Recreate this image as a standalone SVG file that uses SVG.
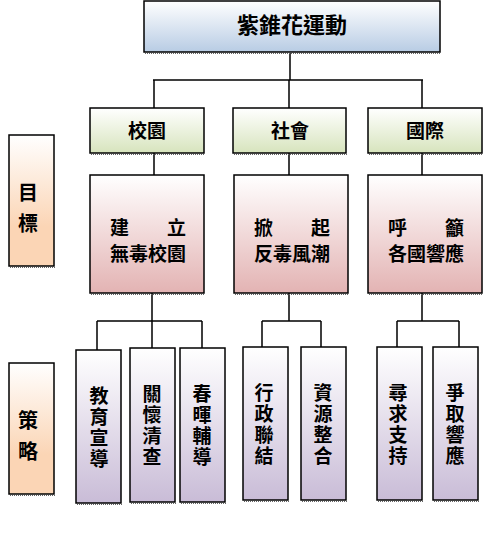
<svg xmlns="http://www.w3.org/2000/svg" width="500" height="549" viewBox="0 0 500 549">
<style>
.box{stroke:#000;stroke-width:1.5}
.shadow{stroke:#666;stroke-width:1;stroke-dasharray:1 1;fill:none}
.conn{stroke:#000;stroke-width:1.5;fill:none}
text{font-family:"Noto Sans CJK TC","Noto Sans CJK SC",sans-serif;font-weight:bold;fill:#000}
.h{font-size:19px;text-anchor:middle}
.v{font-size:19px;writing-mode:vertical-rl;text-anchor:middle;letter-spacing:2px}
.lv{font-size:20px;writing-mode:vertical-rl;text-anchor:middle;letter-spacing:11px}
</style>
<defs>
<linearGradient id="gBlue" x1="0" y1="0" x2="0" y2="1"><stop offset="0" stop-color="#ffffff"/><stop offset="1" stop-color="#b8cce4"/></linearGradient>
<linearGradient id="gGreen" x1="0" y1="0" x2="0" y2="1"><stop offset="0" stop-color="#ffffff"/><stop offset="1" stop-color="#d7e4bd"/></linearGradient>
<linearGradient id="gPink" x1="0" y1="0" x2="0" y2="1"><stop offset="0" stop-color="#ffffff"/><stop offset="1" stop-color="#e3b3b3"/></linearGradient>
<linearGradient id="gPeach" x1="0" y1="0" x2="0" y2="1"><stop offset="0" stop-color="#ffffff"/><stop offset="0.7" stop-color="#fbd5b5"/><stop offset="1" stop-color="#fbd5b5"/></linearGradient>
<linearGradient id="gPurple" x1="0" y1="0" x2="0" y2="1"><stop offset="0" stop-color="#ffffff"/><stop offset="1" stop-color="#c9bcd7"/></linearGradient>
</defs>
<rect width="500" height="549" fill="#fff"/>
<g id="connectors">
<path class="conn" d="M290 53V80M153 80H423M154 80V108M289 80V108M422 80V108"/>
<path class="conn" d="M154 153V175M289 153V175M422 153V175"/>
<path class="conn" d="M152 293V321M97 321H202M97 321V350M152 321V348M202 321V348"/>
<path class="conn" d="M289 293V321M262 321H321M262 321V347M321 321V347"/>
<path class="conn" d="M422 293V321M397 321H459M397 321V347M459 321V347"/>
</g>
<g id="title"><rect class="box" x="144" y="1" width="296" height="51" fill="url(#gBlue)"/><line class="shadow" x1="145" y1="53.5" x2="441" y2="53.5"/><text class="h" x="292" y="33" style="font-size:22px">紫錐花運動</text></g>
<g id="label-goal"><rect class="box" x="9" y="135" width="45" height="131" fill="url(#gPeach)"/><line class="shadow" x1="10" y1="267.5" x2="55" y2="267.5"/><text class="lv" x="28" y="213">目標</text></g>
<g id="label-strategy"><rect class="box" x="9" y="363" width="45" height="131" fill="url(#gPeach)"/><line class="shadow" x1="10" y1="495.5" x2="55" y2="495.5"/><text class="lv" x="28" y="441">策略</text></g>
<g id="campus"><rect class="box" x="90" y="108" width="114" height="45" fill="url(#gGreen)"/><line class="shadow" x1="91" y1="154.5" x2="205" y2="154.5"/><text class="h" x="147" y="138">校園</text></g>
<g id="society"><rect class="box" x="233" y="108" width="113" height="45" fill="url(#gGreen)"/><line class="shadow" x1="234" y1="154.5" x2="347" y2="154.5"/><text class="h" x="290" y="138">社會</text></g>
<g id="international"><rect class="box" x="368" y="108" width="114" height="45" fill="url(#gGreen)"/><line class="shadow" x1="369" y1="154.5" x2="483" y2="154.5"/><text class="h" x="425" y="138">國際</text></g>
<g id="goal-campus"><rect class="box" x="90" y="175" width="114" height="118" fill="url(#gPink)"/><line class="shadow" x1="91" y1="294.5" x2="205" y2="294.5"/><text class="h" x="148" y="235">建　　立</text><text class="h" x="148" y="261">無毒校園</text></g>
<g id="goal-society"><rect class="box" x="234" y="175" width="114" height="118" fill="url(#gPink)"/><line class="shadow" x1="235" y1="294.5" x2="349" y2="294.5"/><text class="h" x="292" y="235">掀　　起</text><text class="h" x="292" y="261">反毒風潮</text></g>
<g id="goal-international"><rect class="box" x="368" y="175" width="114" height="118" fill="url(#gPink)"/><line class="shadow" x1="369" y1="294.5" x2="483" y2="294.5"/><text class="h" x="426" y="235">呼　　籲</text><text class="h" x="426" y="261">各國響應</text></g>
<g id="s1"><rect class="box" x="76" y="350" width="45" height="153" fill="url(#gPurple)"/><line class="shadow" x1="77" y1="504.5" x2="122" y2="504.5"/><text class="v" x="99" y="428">教育宣導</text></g>
<g id="s2"><rect class="box" x="130" y="348" width="45" height="154" fill="url(#gPurple)"/><line class="shadow" x1="131" y1="503.5" x2="176" y2="503.5"/><text class="v" x="152" y="426">關懷清查</text></g>
<g id="s3"><rect class="box" x="180" y="348" width="45" height="154" fill="url(#gPurple)"/><line class="shadow" x1="181" y1="503.5" x2="226" y2="503.5"/><text class="v" x="202" y="426">春暉輔導</text></g>
<g id="s4"><rect class="box" x="243" y="347" width="45" height="153" fill="url(#gPurple)"/><line class="shadow" x1="244" y1="501.5" x2="289" y2="501.5"/><text class="v" x="264" y="425">行政聯結</text></g>
<g id="s5"><rect class="box" x="301" y="347" width="45" height="153" fill="url(#gPurple)"/><line class="shadow" x1="302" y1="501.5" x2="347" y2="501.5"/><text class="v" x="323" y="425">資源整合</text></g>
<g id="s6"><rect class="box" x="377" y="347" width="45" height="153" fill="url(#gPurple)"/><line class="shadow" x1="378" y1="501.5" x2="423" y2="501.5"/><text class="v" x="398" y="425">尋求支持</text></g>
<g id="s7"><rect class="box" x="433" y="347" width="45" height="153" fill="url(#gPurple)"/><line class="shadow" x1="434" y1="501.5" x2="479" y2="501.5"/><text class="v" x="455" y="425">爭取響應</text></g>
</svg>
